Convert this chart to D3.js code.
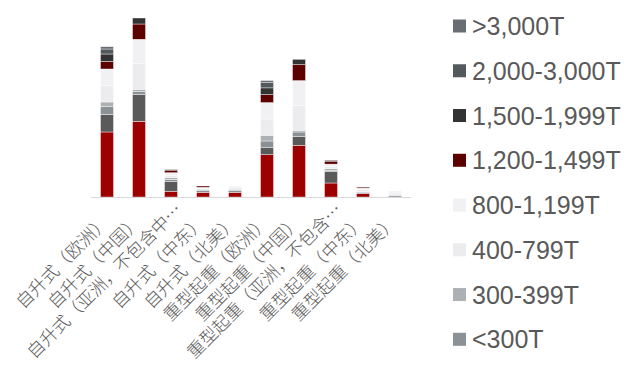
<!DOCTYPE html>
<html lang="zh">
<head>
<meta charset="UTF-8">
<title>Stacked bars</title>
<script src="https://d3js.org/d3.v7.min.js"></script>
<style>
body { margin: 0; background: #fff; }
text { fill: #595959; }
.cat { font-family: "Noto Sans CJK SC", sans-serif; font-weight: 300; }
.legend text { font-family: "Liberation Sans", Arial, sans-serif; }
</style>
</head>
<body>
<script>
const width = 641, height = 368;

// categories (x axis)
const categories = ["自升式（欧洲）", "自升式（中国）", "自升式（亚洲，不包含中东）", "自升式（中东）", "自升式（北美）",
  "重型起重（欧洲）", "重型起重（中国）", "重型起重（亚洲，不包含中东）", "重型起重（中东）", "重型起重（北美）"];
// the labels as printed (long ones cut short)
const labelText = ["自升式（欧洲）", "自升式（中国）", "自升式（亚洲，不包含中…", "自升式（中东）", "自升式（北美）",
  "重型起重（欧洲）", "重型起重（中国）", "重型起重（亚洲，不包含…", "重型起重（中东）", "重型起重（北美）"];

// series, bottom of stack first (first two are cut off in the legend)
const seriesNames = ["其他", "未知", "<300T", "300-399T", "400-799T", "800-1,199T", "1,200-1,499T", "1,500-1,999T", "2,000-3,000T", ">3,000T"];
const seriesColors = ["#9c0000", "#5a5a5a", "#8b9297", "#adb1b4", "#ececee", "#f1f1f3", "#5c0000", "#333333", "#525a5e", "#686e73"];

const other    = [65, 75.7, 5.8, 4.7, 4.7, 42.3, 51.7, 14, 3.3, 0];
const unknown  = [17.7, 26.7, 10, 0, 0, 7, 9, 11.3, 0, 0];
const lt300    = [8, 3.3, 1.8, 1.5, 1.5, 6.7, 4.3, 1, 1, 1.2];
const t300     = [4.3, 2, 1.7, 1.5, 1.5, 5.7, 1.7, 2, 1, 0.8];
const t400     = [16.5, 25.6, 2.5, 1, 1.7, 16.3, 25, 2.3, 1.8, 2];
const t800     = [16.5, 24.4, 2.5, 1, 1.6, 16.4, 24.7, 2.3, 1.8, 2];
const t1200    = [7.6, 15.3, 2.6, 1.3, 0, 8, 16, 3, 1, 0];
const t1500    = [7.4, 6, 0, 0, 0, 6.7, 5.3, 0, 0, 0];
const t2000    = [5, 0, 0, 0, 0, 5.2, 0, 0, 0, 0];
const t3000    = [2.3, 0, 0.8, 0, 0, 2.2, 0, 1, 0, 0];

const seriesValues = [other, unknown, lt300, t300, t400, t800, t1200, t1500, t2000, t3000];

// table for d3.stack
const table = categories.map((c, i) => {
  const row = { cat: c };
  seriesNames.forEach((s, j) => row[s] = seriesValues[j][i]);
  return row;
});

const svg = d3.select("body").append("svg")
  .attr("width", width)
  .attr("height", height);

const x = d3.scaleBand()
  .domain(categories)
  .range([91, 411])
  .paddingInner(0.594)
  .paddingOuter(0.297);

const totals = table.map(r => d3.sum(seriesNames, s => r[s]));
const y = d3.scaleLinear()
  .domain([0, d3.max(totals)])
  .range([197, 18]);

const stacked = d3.stack().keys(seriesNames)(table);

svg.selectAll(".series")
  .data(stacked)
  .join("g")
  .attr("class", "series")
  .attr("fill", (d, i) => seriesColors[i])
  .selectAll("rect")
  .data(d => d)
  .join("rect")
  .attr("x", d => x(d.data.cat))
  .attr("width", x.bandwidth())
  .attr("y", d => y(d[1]))
  .attr("height", d => y(d[0]) - y(d[1]))
  .attr("stroke", "#fff")
  .attr("stroke-width", 0.4);

// axis line
svg.append("line")
  .attr("x1", 91).attr("x2", 411)
  .attr("y1", 197.5).attr("y2", 197.5)
  .attr("stroke", "#d9d9d9")
  .attr("stroke-width", 1.2);

// rotated labels; the cut-short ones sit a little further along
svg.selectAll(".cat")
  .data(categories)
  .join("text")
  .attr("class", "cat")
  .attr("text-anchor", "end")
  .attr("font-size", 17.5)
  .attr("transform", (d, i) => {
    const cut = labelText[i].endsWith("…");
    const cx = x(d) + x.bandwidth() / 2;
    return cut ? `translate(${cx + 12},${211}) rotate(-45)` : `translate(${cx + 3},${223}) rotate(-45)`;
  })
  .text((d, i) => labelText[i]);

// legend: top of the stack first, bottom two clipped off
const legendKeys = seriesNames.slice(2).reverse();
const legend = svg.selectAll(".legend")
  .data(legendKeys)
  .join("g")
  .attr("class", "legend")
  .attr("transform", (d, i) => `translate(453,${26 + i * 44.76})`);

legend.append("rect")
  .attr("x", 0).attr("y", -6.5)
  .attr("width", 13).attr("height", 13)
  .attr("fill", d => seriesColors[seriesNames.indexOf(d)]);

legend.append("text")
  .attr("x", 19)
  .attr("y", 0)
  .attr("dy", "0.36em")
  .attr("font-size", 25)
  .text(d => d);
</script>
</body>
</html>
